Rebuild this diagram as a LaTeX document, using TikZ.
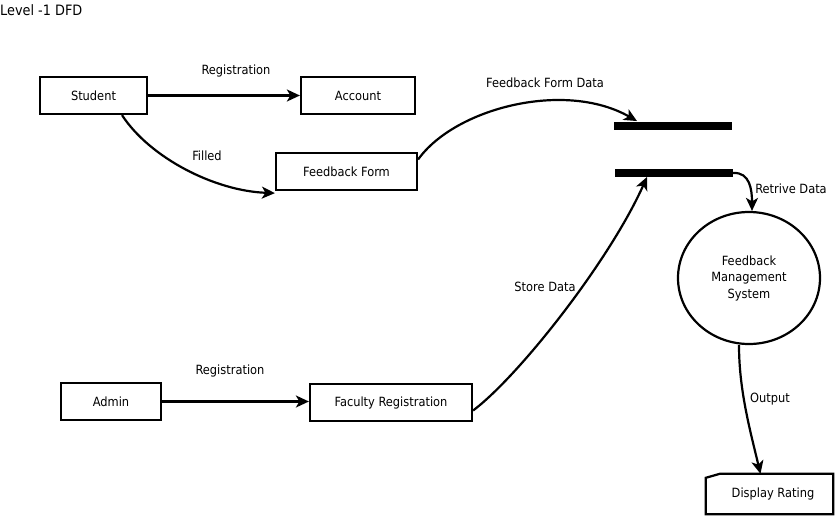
\documentclass[tikz,border=0pt]{standalone}
\usepackage{fontspec}
\setmainfont{DejaVu Sans Condensed}
\usetikzlibrary{arrows.meta,shapes.geometric}
\begin{document}
\begin{tikzpicture}[x=1pt,y=-1pt,
  every node/.style={font=\fontsize{12.7}{15}\selectfont},
  box/.style={draw,line width=2.2pt,inner sep=0pt},
  flow/.style={line width=2.2pt,-{Stealth[length=13pt,width=12pt,inset=3.5pt]}},
  lbl/.style={inner sep=0pt},
  bar/.style={fill=black,inner sep=0pt,minimum height=7.5pt}]
\useasboundingbox[fill=white] (0,0) rectangle (836,517);
% title
\node[lbl,anchor=west,font=\fontsize{14.3}{16}\selectfont] (title) at (0,10) {Level -1 DFD};
% boxes
\node[box,minimum width=107,minimum height=37] (stu) at (93.5,95.5) {Student};
\node[box,minimum width=114,minimum height=37] (acc) at (358,95.5) {Account};
\node[box,minimum width=141,minimum height=37] (ff) at (346.5,171.5) {Feedback Form};
\node[box,minimum width=100,minimum height=37] (adm) at (111,401.5) {Admin};
\node[box,minimum width=162,minimum height=37] (fac) at (391,402.5) {Faculty Registration};
% data store bars
\node[bar,minimum width=118] (top) at (673,126) {};
\node[bar,minimum width=118] (bot) at (674,173) {};
% process
\node[draw,ellipse,line width=2.2pt,minimum width=142,minimum height=132,inner sep=0pt,align=center,
  font=\fontsize{12.7}{16.5}\selectfont] (fms) at (749,278) {Feedback\\Management\\System};
% display rating (card)
\node[minimum width=127,minimum height=40,inner sep=0pt] (disp) at (769.5,494) {\hspace*{7pt}Display Rating};
\draw[line width=2.2pt] ([xshift=14pt]disp.north west) -- (disp.north east) -- (disp.south east)
  -- (disp.south west) -- ([yshift=-4pt]disp.north west) -- cycle;
% connectors
\draw[flow] (stu) -- (acc);
\draw[flow] ([xshift=28.5pt]stu.south) .. controls (150,158) and (215,191) .. ([yshift=-2pt]ff.south west);
\draw[flow] ([yshift=12pt]ff.east) .. controls (455,108) and (565,80) .. ([xshift=-36pt,yshift=1pt]top.north);
\draw[flow] ([yshift=-8pt]fac.east) .. controls (520,375) and (610,260) .. ([xshift=-27pt]bot.south);
\draw[flow] (bot.east) .. controls (750,172) and (752,190) .. ([xshift=3pt]fms.north);
\draw[flow] ([xshift=-10pt]fms.south) .. controls (739,390) and (750,430) .. ([xshift=-9pt]disp.north);
\draw[flow] (adm.east) -- (adm.east -| fac.west);
% labels
\node[lbl] (l1) at (236,71) {Registration};
\node[lbl] (l2) at (207,156) {Filled};
\node[lbl] (l3) at (545,83) {Feedback Form Data};
\node[lbl] (l4) at (545,287) {Store Data};
\node[lbl] (l5) at (791,189) {Retrive Data};
\node[lbl] (l6) at (770,399) {Output};
\node[lbl] (l7) at (230,371) {Registration};
\end{tikzpicture}
\end{document}
